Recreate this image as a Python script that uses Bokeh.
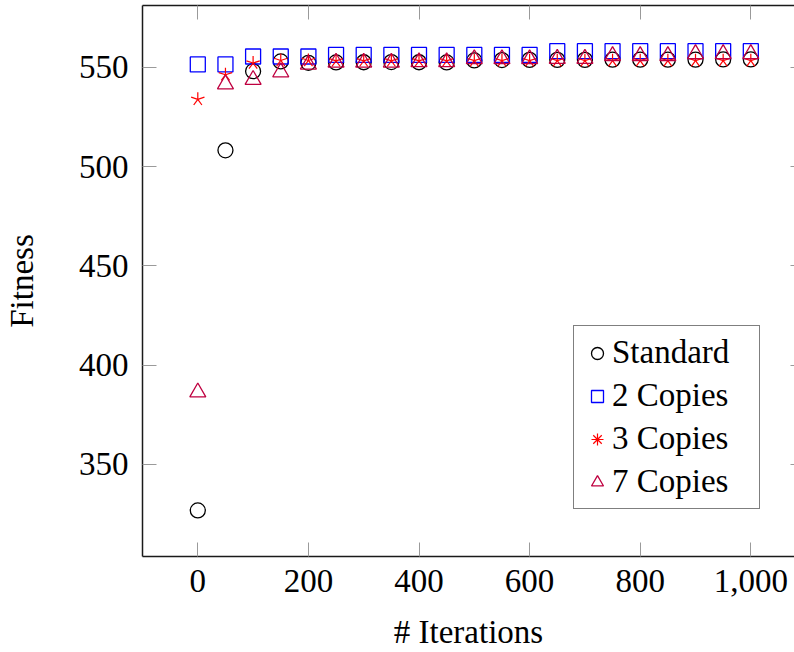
from bokeh.plotting import figure
from bokeh.models import (Range1d, LinearAxis, FixedTicker, NumeralTickFormatter,
                          Legend, LegendItem, ColumnDataSource)
from bokeh.embed import file_html
from bokeh.resources import INLINE

# ---------------- data ----------------
iterations = [0, 50, 100, 150, 200, 250, 300, 350, 400, 450, 500,
              550, 600, 650, 700, 750, 800, 850, 900, 950, 1000]
standard = [326.7, 508.2, 548.1, 553.0, 552.3, 552.5, 552.6, 552.7, 552.6, 552.5, 553.5,
            553.7, 553.8, 553.8, 553.8, 553.9, 553.9, 553.9, 553.9, 554.0, 554.0]
copies_2 = [551.5, 551.5, 555.5, 555.5, 555.5, 556.3, 556.3, 556.3, 556.3, 556.3, 556.3,
            556.3, 556.3, 558.2, 558.2, 558.2, 558.2, 558.2, 558.2, 558.2, 558.2]
copies_3 = [533.9, 546.3, 552.2, 553.5, 553.5, 553.3, 553.3, 553.3, 553.3, 553.3, 553.4,
            553.4, 553.4, 553.4, 553.4, 553.4, 553.4, 553.4, 553.4, 553.4, 553.4]
copies_7 = [386.3, 541.5, 543.8, 547.6, 551.5, 552.5, 552.5, 552.5, 552.7, 552.7, 554.2,
            554.2, 554.2, 554.4, 554.4, 555.8, 555.8, 555.8, 556.8, 556.8, 556.8]
series_labels = ["Standard", "2 Copies", "3 Copies", "7 Copies"]
x_ticks = [0, 200, 400, 600, 800, 1000]
y_ticks = [350, 400, 450, 500, 550]
x_label = "# Iterations"
y_label = "Fitness"

FONT = "Liberation Serif"
FSIZE = "33px"
TICK_COLOR = "#9a9a9a"
AXIS_COLOR = "#1a1a1a"

p = figure(width=794, height=652,
           x_range=Range1d(-100, 1079), y_range=Range1d(303.5, 581.2),
           output_backend="svg", toolbar_location=None,
           min_border_left=142, min_border_right=0, min_border_top=5,
           min_border_bottom=96, outline_line_color=None)
p.grid.visible = False
p.background_fill_color = "white"


def style_axis(ax, tick_in=14):
    ax.major_tick_in = tick_in
    ax.major_tick_out = 0
    ax.minor_tick_line_color = None
    ax.major_tick_line_color = TICK_COLOR
    ax.major_tick_line_width = 1
    ax.axis_line_color = AXIS_COLOR
    ax.axis_line_width = 1.5
    ax.major_label_text_font = FONT
    ax.major_label_text_font_size = FSIZE
    ax.major_label_text_color = "black"
    ax.axis_label_text_font = FONT
    ax.axis_label_text_font_size = FSIZE
    ax.axis_label_text_font_style = "normal"
    ax.axis_label_text_color = "black"


def hide_labels(ax):
    ax.major_label_text_font_size = "1px"
    ax.major_label_text_color = None
    ax.major_label_standoff = 0


xa = p.xaxis[0]
style_axis(xa)
xa.ticker = FixedTicker(ticks=x_ticks)
xa.formatter = NumeralTickFormatter(format="0,0")
xa.major_label_standoff = 13
xa.axis_label = x_label
xa.axis_label_standoff = 19

ya = p.yaxis[0]
style_axis(ya)
ya.ticker = FixedTicker(ticks=y_ticks)
ya.major_label_standoff = 14
ya.axis_label = y_label
ya.axis_label_standoff = 36

top = LinearAxis(ticker=FixedTicker(ticks=x_ticks))
style_axis(top)
hide_labels(top)
p.add_layout(top, "above")

right = LinearAxis(ticker=FixedTicker(ticks=y_ticks))
style_axis(right, tick_in=4)
right.axis_line_color = None
hide_labels(right)
p.add_layout(right, "right")

src_std = ColumnDataSource(dict(x=iterations, y=standard))
src_2 = ColumnDataSource(dict(x=iterations, y=copies_2))
src_3 = ColumnDataSource(dict(x=iterations, y=copies_3))
src_7 = ColumnDataSource(dict(x=iterations, y=copies_7))

r_std = p.scatter("x", "y", source=src_std, marker="circle", size=15,
                  fill_color=None, line_color="black", line_width=1.3)
r_2 = p.scatter("x", "y", source=src_2, marker="square", size=15,
                fill_color=None, line_color="#0000ff", line_width=1.3)
for ang in [90, 162, 234, 306, 18]:
    p.ray("x", "y", source=src_3, length=7, length_units="screen",
          angle=ang, angle_units="deg", line_color="#ff0000", line_width=1.2)
# legend stand-in for the star marks (zero size on the plot itself)
r_3 = p.scatter("x", "y", source=src_3, marker="asterisk", size=0,
                line_color="#ff0000", line_width=1.2)
r_7 = p.scatter("x", "y", source=src_7, marker="triangle", size=16,
                fill_color=None, line_color="#bf0040", line_width=1.3)

legend = Legend(items=[LegendItem(label=series_labels[0], renderers=[r_std]),
                       LegendItem(label=series_labels[1], renderers=[r_2]),
                       LegendItem(label=series_labels[2], renderers=[r_3]),
                       LegendItem(label=series_labels[3], renderers=[r_7])],
                location=(431, 47), border_line_color="black", border_line_width=1.2,
                background_fill_color="white", background_fill_alpha=1.0,
                label_text_font=FONT, label_text_font_size=FSIZE,
                label_text_color="black",
                glyph_width=30, glyph_height=30, label_standoff=0,
                padding=8, spacing=6, margin=0, label_width=139)
p.add_layout(legend)

open("out.html", "w").write(file_html(p, INLINE))
